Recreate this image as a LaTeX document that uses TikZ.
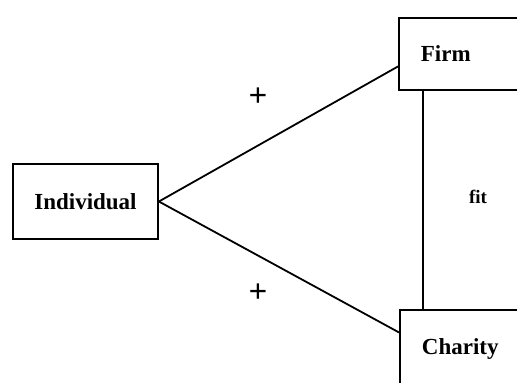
\documentclass[tikz,border=0pt]{standalone}
\usepackage{fontspec}
\setmainfont{Liberation Serif}
\usetikzlibrary{calc}
\begin{document}
\begin{tikzpicture}[x=1pt,y=-1pt,
  box/.style={draw=black, line width=1.8pt, rectangle, inner sep=0pt, font=\fontsize{23}{27}\selectfont\bfseries},
  link/.style={draw=black, line width=1.8pt},
  sign/.style={font=\fontsize{33}{36}\selectfont\bfseries, inner sep=0pt}]
\useasboundingbox (0,0) rectangle (517,383);
\fill[white] (0,0) rectangle (517,383);
\clip (0,0) rectangle (517,383);
\node[box, minimum width=145pt, minimum height=75pt] (ind) at (85.5,201.5) {Individual};
\node[box, anchor=north west, minimum width=160pt, minimum height=72pt,
      text width=160pt, align=left, inner xsep=22pt] (firm) at (398,17) {Firm};
\node[box, anchor=north west, minimum width=160pt, minimum height=79pt,
      text width=160pt, align=left, inner xsep=22pt] (charity) at (399,309) {Charity};
\coordinate (fw) at ($(firm.north west)!0.67!(firm.south west)$);
\coordinate (cw) at ($(charity.north west)!0.29!(charity.south west)$);
\coordinate (fb) at ($(firm.south west)+(25,0)$);
\coordinate (ct) at (fb |- charity.north);
\draw[link] (ind.east) -- (fw);
\draw[link] (ind.east) -- (cw);
\draw[link] (fb) -- (ct);
\node[sign] (p1) at (258,97) {+};
\node[sign] (p2) at (258,293) {+};
\node[font=\fontsize{19}{21}\selectfont\bfseries, inner sep=0pt] (fit) at (478,197) {fit};
\end{tikzpicture}
\end{document}
